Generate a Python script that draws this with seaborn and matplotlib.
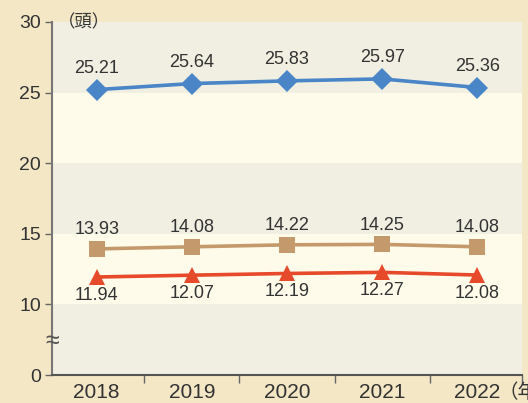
import matplotlib
matplotlib.use("Agg")
import matplotlib.pyplot as plt
import seaborn as sns
import pandas as pd

years = ["2018", "2019", "2020", "2021", "2022"]
series_a = [25.21, 25.64, 25.83, 25.97, 25.36]
series_b = [13.93, 14.08, 14.22, 14.25, 14.08]
series_c = [11.94, 12.07, 12.19, 12.27, 12.08]
ytick_vals = [5, 10, 15, 20, 25, 30]
ytick_labels = ["0", "10", "15", "20", "25", "30"]

sns.set_theme(style="white")
plt.rcParams['font.family'] = ['Liberation Sans', 'Noto Sans CJK JP', 'DejaVu Sans']

df = pd.DataFrame({
    "x": list(range(len(years))) * 3,
    "y": series_a + series_b + series_c,
    "s": ["a"] * 5 + ["b"] * 5 + ["c"] * 5,
})

fig = plt.figure(figsize=(5.28, 4.03), dpi=100)
fig.patch.set_facecolor("#f4e7c6")
ax = fig.add_axes([52 / 528, 28 / 403, 470 / 528, 353 / 403])
ax.set_facecolor("#fefbea")

ax.set_xlim(-0.47, 4.47)
ax.set_ylim(5, 30)

# bands
for lo, hi in [(5, 10), (15, 20), (25, 30)]:
    ax.axhspan(lo, hi, color="#f0efe1", zorder=0, lw=0)

palette = {"a": "#4a85c7", "b": "#c49a6c", "c": "#e64a2a"}
markers = {"a": "D", "b": "s", "c": "^"}
sns.lineplot(data=df, x="x", y="y", hue="s", style="s", palette=palette,
             markers=markers, dashes=False, markersize=11, linewidth=2.6,
             markeredgewidth=0, legend=False, ax=ax, zorder=3)

lab_kw = dict(fontsize=13, color="#333333", ha="center", textcoords="offset points")
for i, v in enumerate(series_a):
    ax.annotate(f"{v:.2f}", (i, v), xytext=(0, 9), va="bottom", **lab_kw)
for i, v in enumerate(series_b):
    ax.annotate(f"{v:.2f}", (i, v), xytext=(0, 7.5), va="bottom", **lab_kw)
for i, v in enumerate(series_c):
    ax.annotate(f"{v:.2f}", (i, v), xytext=(0, -7), va="top", **lab_kw)

ax.set_yticks(ytick_vals)
ax.set_yticklabels(ytick_labels, fontsize=14, color="#333333")
ax.set_xticks(range(len(years)))
ax.set_xticklabels(years, fontsize=15, color="#333333")
ax.set_xticks([0.5, 1.5, 2.5, 3.5, 4.47], minor=True)
ax.tick_params(axis="x", which="major", length=0, pad=6)
ax.tick_params(axis="x", which="minor", length=6, width=1, color="#666666", direction="out", bottom=True)
ax.tick_params(axis="y", length=5, width=1, color="#666666", direction="out", left=True, pad=3)
ax.set_xlabel("")
ax.set_ylabel("")

for s in ["top", "right"]:
    ax.spines[s].set_visible(False)
ax.spines["left"].set_color("#777777")
ax.spines["left"].set_linewidth(1.5)
ax.spines["bottom"].set_color("#555555")
ax.spines["bottom"].set_linewidth(1.5)

ax.text(0.012, 1.0, "（頭）", transform=ax.transAxes, ha="left", va="center",
        fontsize=12.5, color="#333333", family=['Noto Sans CJK JP', 'DejaVu Sans'])
fig.text(498 / 528, 10 / 403, "（年", ha="left", va="center",
         fontsize=14, color="#333333", family=['Noto Sans CJK JP', 'DejaVu Sans'])
ax.text(0.0, 7.4, "≈", transform=ax.get_yaxis_transform(), ha="center", va="center",
        fontsize=18, color="#555555", clip_on=False)

fig.savefig("out.png", dpi=100, facecolor=fig.get_facecolor())
